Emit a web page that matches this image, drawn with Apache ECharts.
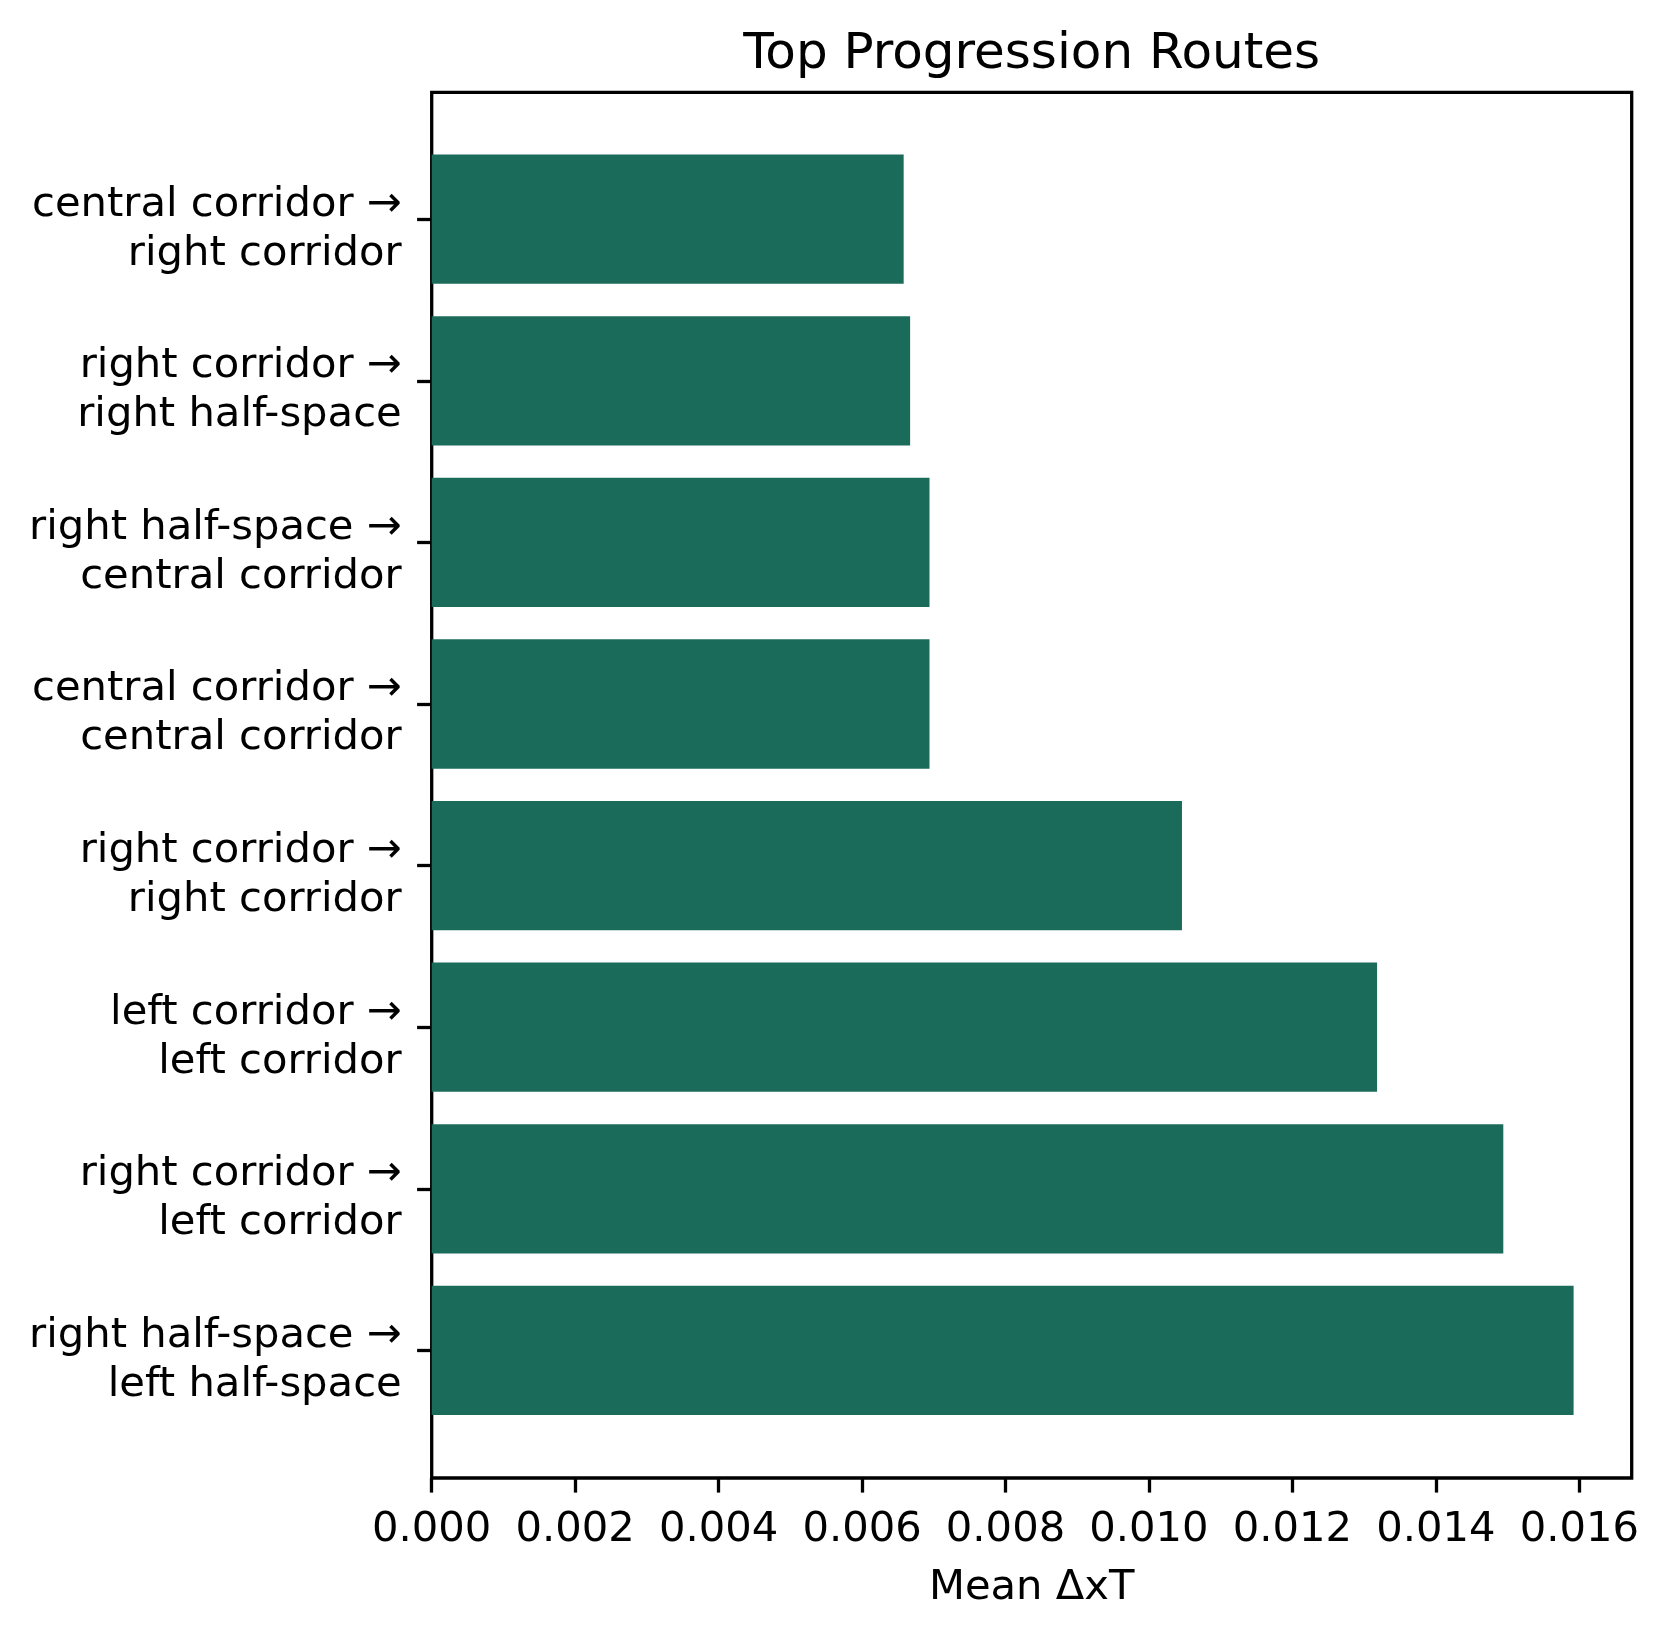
<!DOCTYPE html>
<html>
<head>
<meta charset="utf-8">
<script src="https://cdn.jsdelivr.net/npm/echarts@6/dist/echarts.min.js"></script>
<style>html,body{margin:0;padding:0;background:#fff}#c{width:1669px;height:1638px}</style>
</head>
<body>
<div id="c"></div>
<script>
const routeFrom = ["central corridor", "right corridor", "right half-space", "central corridor", "right corridor", "left corridor", "right corridor", "right half-space"];
const routeTo = ["right corridor", "right half-space", "central corridor", "central corridor", "right corridor", "left corridor", "left corridor", "left half-space"];
const meanDeltaXT = [0.00658, 0.00667, 0.00694, 0.00694, 0.01046, 0.01318, 0.01494, 0.01592];
const xTicks = [0, 0.002, 0.004, 0.006, 0.008, 0.010, 0.012, 0.014, 0.016];
const xMax = 0.01673;

const categories = routeFrom.map((f, i) => f + " \u2192\n" + routeTo[i]);
const FONT = "DejaVu Sans";
const L = 431.7, W = 1200;
const CAT_TOP = 138.4, CAT_H = 1292.8, LABEL_SHIFT = 10;

const chart = echarts.init(document.getElementById('c'), null, {renderer: 'canvas'});
chart.setOption({
  backgroundColor: '#ffffff',
  animation: false,
  title: {
    text: 'Top Progression Routes',
    left: L + W / 2 - 5, top: 25, textAlign: 'center',
    textStyle: {fontFamily: FONT, fontSize: 50, fontWeight: 'normal', color: '#000', lineHeight: 50}
  },
  grid: [
    {left: L, top: 92.3, width: W, height: 1385.7, show: true, borderColor: '#000', borderWidth: 3.3, backgroundColor: 'transparent'},
    {left: L, top: CAT_TOP, width: W, height: CAT_H},
    {left: L, top: CAT_TOP + LABEL_SHIFT, width: W, height: CAT_H}
  ],
  xAxis: [
    {
      gridIndex: 0, type: 'value', min: 0, max: xMax,
      name: 'Mean \u0394xT', nameLocation: 'middle', nameGap: 89,
      nameTextStyle: {fontFamily: FONT, fontSize: 41.7, color: '#000'},
      axisLine: {show: false},
      axisTick: {show: true, length: 14.6, lineStyle: {color: '#000', width: 3.3}, customValues: xTicks},
      axisLabel: {fontFamily: FONT, fontSize: 41.7, color: '#000', margin: 31, customValues: xTicks,
        formatter: v => v.toFixed(3)},
      splitLine: {show: false}
    },
    {gridIndex: 1, type: 'value', min: 0, max: xMax, show: false},
    {gridIndex: 2, type: 'value', min: 0, max: xMax, show: false}
  ],
  yAxis: [
    {gridIndex: 0, type: 'value', show: false},
    {
      gridIndex: 1, type: 'category', inverse: true, data: categories,
      axisLine: {show: false},
      axisTick: {show: true, alignWithLabel: true, length: 14.6, lineStyle: {color: '#000', width: 3.3}},
      axisLabel: {show: false},
      splitLine: {show: false}
    },
    {
      gridIndex: 2, type: 'category', inverse: true, data: categories,
      axisLine: {show: false},
      axisTick: {show: false},
      axisLabel: {fontFamily: FONT, fontSize: 41.7, lineHeight: 49, color: '#000', margin: 30, align: 'right'},
      splitLine: {show: false}
    }
  ],
  series: [{
    type: 'bar', xAxisIndex: 1, yAxisIndex: 1,
    data: meanDeltaXT, barWidth: '80%',
    itemStyle: {color: '#1b6b5b'}
  }]
});
</script>
</body>
</html>
